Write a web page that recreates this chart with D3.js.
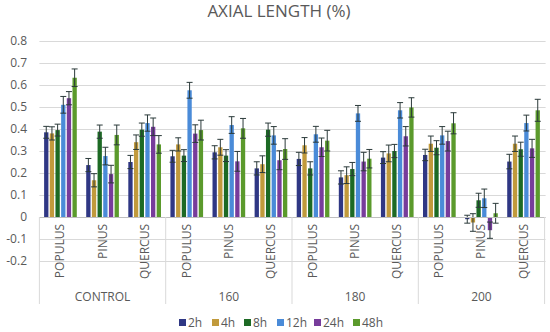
<!DOCTYPE html>
<html lang="en">
<head>
  <meta charset="utf-8">
  <title>Axial length</title>
  <script src="https://d3js.org/d3.v7.min.js"></script>
  <style>
  body { margin: 0; background: #fff; }
  text { font-family: "Open Sans", sans-serif; fill: #595959; }
  </style>
</head>
<body>
<script>
  // treatment groups, species inside each group, time series
  var groups = ["CONTROL", "160", "180", "200"];
  var species = ["POPULUS", "PINUS", "QUERCUS"];
  var series = ["2h", "4h", "8h", "12h", "24h", "48h"];
  var colors = ["#2f3784", "#c19a3c", "#1d6a24", "#4a8bd8", "#773c9b", "#5b9a2c"];
  var yTicks = [-0.2, -0.1, 0, 0.1, 0.2, 0.3, 0.4, 0.5, 0.6, 0.7, 0.8];

  // values in order CONTROL(POP,PIN,QUE), 160(...), 180(...), 200(...)
  var v2h  = [0.385, 0.236, 0.250, 0.276, 0.294, 0.221, 0.264, 0.180, 0.270, 0.282, -0.010, 0.252];
  var v4h  = [0.380, 0.167, 0.340, 0.330, 0.317, 0.240, 0.326, 0.190, 0.289, 0.333, -0.025, 0.333];
  var v8h  = [0.395, 0.388, 0.397, 0.279, 0.279, 0.397, 0.221, 0.218, 0.300, 0.315, 0.076, 0.308];
  var v12h = [0.510, 0.277, 0.427, 0.576, 0.418, 0.371, 0.376, 0.471, 0.485, 0.371, 0.085, 0.427];
  var v24h = [0.540, 0.195, 0.410, 0.379, 0.253, 0.258, 0.317, 0.252, 0.367, 0.345, -0.060, 0.312];
  var v48h = [0.633, 0.373, 0.330, 0.395, 0.403, 0.309, 0.347, 0.265, 0.498, 0.426, 0.017, 0.485];

  // error bar half lengths
  var e2h  = [0.027, 0.030, 0.030, 0.027, 0.030, 0.030, 0.030, 0.030, 0.027, 0.026, 0.018, 0.033];
  var e4h  = [0.030, 0.030, 0.033, 0.030, 0.036, 0.038, 0.035, 0.038, 0.038, 0.035, 0.040, 0.035];
  var e8h  = [0.027, 0.030, 0.030, 0.027, 0.027, 0.030, 0.030, 0.030, 0.030, 0.032, 0.032, 0.032];
  var e12h = [0.038, 0.040, 0.037, 0.036, 0.038, 0.040, 0.036, 0.036, 0.035, 0.040, 0.042, 0.036];
  var e24h = [0.030, 0.040, 0.040, 0.040, 0.045, 0.043, 0.042, 0.042, 0.044, 0.045, 0.037, 0.041];
  var e48h = [0.040, 0.045, 0.040, 0.045, 0.045, 0.047, 0.047, 0.042, 0.044, 0.048, 0.045, 0.050];

  var values = [v2h, v4h, v8h, v12h, v24h, v48h];
  var errors = [e2h, e4h, e8h, e12h, e24h, e48h];

  var w = 550, h = 332;
  var left = 39.4, right = 544.6;

  // one category per group/species pair
  var cats = [];
  groups.forEach(function(g) {
    species.forEach(function(s) { cats.push(g + "|" + s); });
  });

  var rows = [];
  cats.forEach(function(c, i) {
    series.forEach(function(s, j) {
      rows.push({cat: c, series: s, value: values[j][i], err: errors[j][i], color: colors[j]});
    });
  });

  var x0 = d3.scaleBand().domain(cats).range([left, right]).padding(0);
  var xg = d3.scaleBand().domain(groups).range([left, right]).padding(0);
  var x1 = d3.scaleBand().domain(series).range([0, x0.bandwidth()])
    .paddingInner(0.24).paddingOuter(0.83);
  var y = d3.scaleLinear().domain([-0.2, 0.8]).range([261, 41]);

  var svg = d3.select("body").append("svg")
    .attr("width", w)
    .attr("height", h);

  // title
  svg.append("text")
    .attr("x", 279)
    .attr("y", 17)
    .attr("text-anchor", "middle")
    .attr("font-size", 17)
    .text("AXIAL LENGTH (%)");

  // gridlines
  svg.selectAll(".grid")
    .data(yTicks.filter(function(t) { return t !== 0; }))
    .enter().append("line")
    .attr("x1", left).attr("x2", right + 1)
    .attr("y1", function(d) { return Math.round(y(d)) + 0.5; })
    .attr("y2", function(d) { return Math.round(y(d)) + 0.5; })
    .attr("stroke", "#d9d9d9");

  // y tick labels
  svg.selectAll(".ylab")
    .data(yTicks)
    .enter().append("text")
    .attr("x", 27)
    .attr("y", function(d) { return y(d) + 4; })
    .attr("text-anchor", "end")
    .attr("font-size", 12)
    .text(function(d) { return d3.format(".1f")(d).replace(/^0\.0$/, "0").replace("−", "-"); });

  // bars
  svg.selectAll(".bar")
    .data(rows)
    .enter().append("rect")
    .attr("x", function(d) { return x0(d.cat) + x1(d.series); })
    .attr("width", x1.bandwidth())
    .attr("y", function(d) { return y(Math.max(0, d.value)); })
    .attr("height", function(d) { return Math.abs(y(d.value) - y(0)); })
    .attr("fill", function(d) { return d.color; });

  // error bars
  var eb = svg.selectAll(".err")
    .data(rows)
    .enter().append("g")
    .attr("stroke", "#2b3a3a")
    .attr("stroke-width", 1);
  eb.append("line")
    .attr("x1", function(d) { return x0(d.cat) + x1(d.series) + x1.bandwidth() / 2; })
    .attr("x2", function(d) { return x0(d.cat) + x1(d.series) + x1.bandwidth() / 2; })
    .attr("y1", function(d) { return y(d.value + d.err); })
    .attr("y2", function(d) { return y(d.value - d.err); });
  eb.each(function(d) {
    var cx = x0(d.cat) + x1(d.series) + x1.bandwidth() / 2;
    var g = d3.select(this);
    [d.value + d.err, d.value - d.err].forEach(function(v) {
      g.append("line")
        .attr("x1", cx - 3).attr("x2", cx + 3)
        .attr("y1", y(v)).attr("y2", y(v));
    });
  });

  // category axis at zero
  svg.append("line")
    .attr("x1", left).attr("x2", right + 1)
    .attr("y1", Math.round(y(0)) + 0.5).attr("y2", Math.round(y(0)) + 0.5)
    .attr("stroke", "#bfbfbf");

  svg.selectAll(".sep")
    .data(groups.concat(["end"]))
    .enter().append("line")
    .attr("x1", function(d) { return d === "end" ? right : xg(d); })
    .attr("x2", function(d) { return d === "end" ? right : xg(d); })
    .attr("y1", y(0))
    .attr("y2", 304)
    .attr("stroke", "#d9d9d9");

  // species labels, rotated
  svg.selectAll(".sp")
    .data(cats)
    .enter().append("text")
    .attr("text-anchor", "end")
    .attr("font-size", 12)
    .attr("transform", function(d) {
      return "translate(" + (x0(d) + x0.bandwidth() / 2 + 4) + "," + 224 + ") rotate(-90)";
    })
    .text(function(d) { return d.split("|")[1]; });

  // group labels
  svg.selectAll(".gl")
    .data(groups)
    .enter().append("text")
    .attr("x", function(d) { return xg(d) + xg.bandwidth() / 2; })
    .attr("y", 301)
    .attr("text-anchor", "middle")
    .attr("font-size", 12)
    .text(function(d) { return d; });

  // legend
  var legX = [179, 212, 244, 277, 314, 353];
  var leg = svg.selectAll(".leg")
    .data(series)
    .enter().append("g")
    .attr("transform", function(d, i) { return "translate(" + legX[i] + ",319)"; });
  leg.append("rect")
    .attr("width", 7).attr("height", 7)
    .attr("fill", function(d, i) { return colors[i]; });
  leg.append("text")
    .attr("x", 9)
    .attr("y", 7.5)
    .attr("font-size", 12)
    .text(function(d) { return d; });
</script>
</body>
</html>
